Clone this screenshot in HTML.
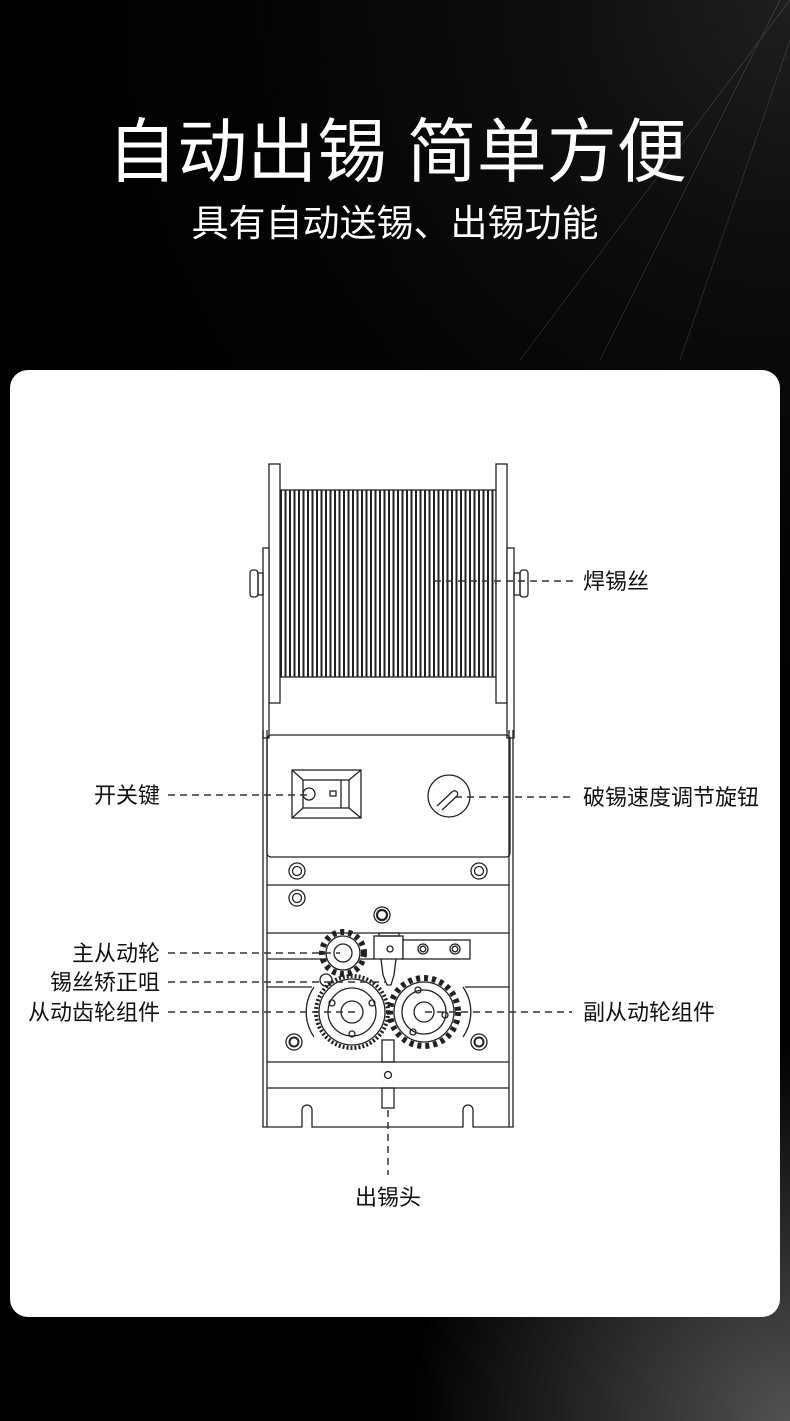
<!DOCTYPE html>
<html><head><meta charset="utf-8"><style>
html,body{margin:0;padding:0;width:790px;height:1421px;overflow:hidden;background:#000}
svg{display:block}
text{font-family:"Liberation Sans","Noto Sans CJK SC",sans-serif}
</style></head><body>
<svg width="790" height="1421" viewBox="0 0 790 1421" xmlns="http://www.w3.org/2000/svg">
<defs>
<radialGradient id="glow" cx="790" cy="0" r="750" gradientUnits="userSpaceOnUse">
<stop offset="0" stop-color="#9a9a9a"/><stop offset="0.3" stop-color="#4a4a4a"/><stop offset="0.7" stop-color="#111"/><stop offset="1" stop-color="#000"/>
</radialGradient>
<radialGradient id="glow2" cx="790" cy="1421" r="380" gradientUnits="userSpaceOnUse">
<stop offset="0" stop-color="#666"/><stop offset="1" stop-color="#000"/>
</radialGradient>
<pattern id="coil" x="280" y="0" width="4.5" height="10" patternUnits="userSpaceOnUse">
<rect width="4.5" height="10" fill="#fff"/><rect x="0" width="2" height="10" fill="#222"/>
</pattern>
</defs>
<rect width="790" height="1421" fill="#000"/>
<rect width="790" height="1421" fill="url(#glow)"/>
<rect width="790" height="1421" fill="url(#glow2)" opacity="0.8"/>
<g stroke="#ccc" stroke-width="1" opacity="0.15">
<line x1="790" y1="0" x2="520" y2="360"/><line x1="780" y1="0" x2="600" y2="360"/>
<line x1="790" y1="40" x2="680" y2="360"/>
</g>
<text x="397" y="176" font-size="70" fill="#fff" text-anchor="middle">自动出锡 简单方便</text>
<text x="395" y="236" font-size="37" fill="#fff" text-anchor="middle">具有自动送锡、出锡功能</text>
<rect x="10" y="370" width="770" height="947" rx="18" fill="#fff"/>

<g fill="none" stroke="#222" stroke-width="1.3">
<rect x="280" y="490" width="216" height="187" fill="url(#coil)" stroke="#222"/>
<rect x="269" y="464" width="11" height="239" fill="#fff"/>
<rect x="496" y="464" width="11" height="239" fill="#fff"/>
<rect x="263" y="548" width="6" height="190" fill="#fff"/>
<rect x="507" y="548" width="7" height="190" fill="#fff"/>
<rect x="258" y="573" width="5" height="22" /><rect x="250" y="570" width="8" height="27" rx="3"/>
<rect x="514" y="573" width="6" height="22" /><rect x="520" y="570" width="8" height="27" rx="3"/>
<path d="M263 730 V1127 H302 V1110 a5 5 0 0 1 10 0 V1127 H463 V1110 a5 5 0 0 1 10 0 V1127 H513 V730"/>
<line x1="267" y1="730" x2="267" y2="1127"/><line x1="509" y1="730" x2="509" y2="1127"/>
<rect x="267" y="735" width="243" height="122" rx="4"/>
<rect x="292" y="770" width="69" height="48"/>
<rect x="303" y="780" width="46" height="28"/>
<line x1="292" y1="770" x2="303" y2="780"/><line x1="361" y1="770" x2="349" y2="780"/>
<line x1="292" y1="818" x2="303" y2="808"/><line x1="361" y1="818" x2="349" y2="808"/>
<line x1="341" y1="780" x2="341" y2="808"/>
<circle cx="309" cy="794" r="6"/><rect x="330" y="791" width="6" height="5"/>
<circle cx="449" cy="796" r="21"/>
<path d="M437 806 L452 792 a3 3 0 0 1 5 4 L442 810"/>
<line x1="267" y1="885" x2="509" y2="885"/>
<line x1="267" y1="933" x2="509" y2="933"/>
<line x1="267" y1="959" x2="374" y2="959"/>
<line x1="267" y1="987" x2="312" y2="987"/><line x1="465" y1="987" x2="509" y2="987"/>
<line x1="267" y1="1062" x2="509" y2="1062"/>
<line x1="267" y1="1088" x2="509" y2="1088"/>
<g>
<circle cx="297" cy="871" r="8"/><circle cx="297" cy="871" r="4.5"/>
<circle cx="479" cy="871" r="8"/><circle cx="479" cy="871" r="4.5"/>
<circle cx="297" cy="898" r="8"/><circle cx="297" cy="898" r="4.5"/>
<circle cx="382" cy="915" r="8"/><circle cx="382" cy="915" r="5" stroke-width="2.2"/>
<circle cx="294" cy="1042" r="8"/><circle cx="294" cy="1042" r="4.5" stroke-width="2"/>
<circle cx="479" cy="1042" r="8"/><circle cx="479" cy="1042" r="4.5" stroke-width="2"/>
</g>
<rect x="374" y="936" width="29" height="23" fill="#fff"/>
<rect x="379" y="933" width="20" height="3"/>
<circle cx="390" cy="949" r="3"/>
<rect x="403" y="940" width="67" height="19" fill="#fff"/>
<circle cx="423" cy="949" r="5"/><circle cx="423" cy="949" r="2.8"/>
<circle cx="455" cy="949" r="5"/><circle cx="455" cy="949" r="2.8"/>
<path d="M381 959 L383 975 L387 985 L391 985 L394 975 L396 959"/>
<rect x="382" y="1040" width="12" height="22"/>
<circle cx="388" cy="1075" r="3.5"/>
<rect x="382" y="1088" width="12" height="20"/>
<circle cx="343" cy="953" r="21" stroke-dasharray="4 4" stroke-width="6" />
<circle cx="343" cy="953" r="17" fill="#fff"/>
<circle cx="343" cy="953" r="9"/>
<circle cx="326" cy="980" r="6"/>
<circle cx="352" cy="1012" r="36" stroke-dasharray="2 2" stroke-width="4"/>
<circle cx="352" cy="1012" r="33" fill="#fff"/>
<circle cx="352" cy="1012" r="24"/>
<circle cx="352" cy="1012" r="11"/>
<circle cx="332" cy="1003" r="3"/><circle cx="372" cy="1003" r="3"/><circle cx="352" cy="1034" r="3"/>
<path d="M314 987 a44 44 0 0 0 0 50"/>
<circle cx="424" cy="1012" r="34" stroke-dasharray="4 4" stroke-width="6"/>
<circle cx="424" cy="1012" r="30" fill="#fff"/>
<circle cx="424" cy="1012" r="22"/>
<circle cx="424" cy="1012" r="10"/>
<circle cx="418" cy="990" r="3"/><circle cx="445" cy="1015" r="3"/><circle cx="413" cy="1032" r="3"/>
<path d="M463 987 a44 44 0 0 1 0 50"/>
</g>
<g stroke="#333" stroke-width="1.5" stroke-dasharray="7 5" fill="none">
<line x1="434" y1="581" x2="575" y2="581"/>
<line x1="168" y1="795" x2="308" y2="795"/>
<line x1="455" y1="797" x2="572" y2="797"/>
<line x1="168" y1="953" x2="340" y2="953"/>
<line x1="168" y1="982" x2="385" y2="982"/>
<line x1="168" y1="1012" x2="355" y2="1012"/>
<line x1="425" y1="1012" x2="572" y2="1012"/>
<line x1="388" y1="1110" x2="388" y2="1175"/>
</g>
<g font-size="22" fill="#111">
<text x="583" y="589">焊锡丝</text>
<text x="160" y="803" text-anchor="end">开关键</text>
<text x="583" y="805">破锡速度调节旋钮</text>
<text x="160" y="961" text-anchor="end">主从动轮</text>
<text x="160" y="990" text-anchor="end">锡丝矫正咀</text>
<text x="160" y="1020" text-anchor="end">从动齿轮组件</text>
<text x="583" y="1020">副从动轮组件</text>
<text x="388" y="1205" text-anchor="middle">出锡头</text>
</g>
</svg>
</body></html>
